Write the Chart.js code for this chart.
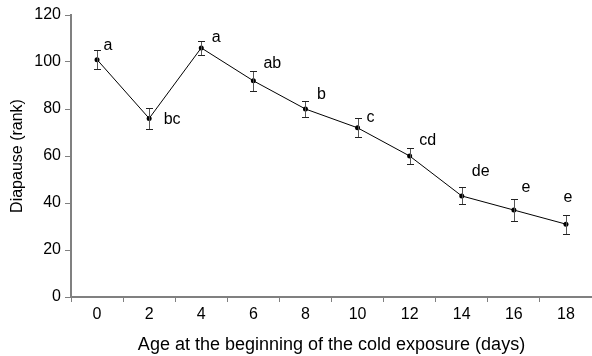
<!DOCTYPE html>
<html>
<head>
<meta charset="utf-8">
<script src="https://cdn.jsdelivr.net/npm/chart.js@4"></script>
<style>
  html, body { margin: 0; padding: 0; background: #fff; overflow: hidden; }
  #wrap { width: 596px; height: 356px; }
</style>
</head>
<body>
<div id="wrap"><canvas id="chart" width="596" height="356"></canvas></div>
<script>
/* ===== DATA ===== */
const ages = ["0", "2", "4", "6", "8", "10", "12", "14", "16", "18"];
const diapause = [101, 76, 106, 92, 80, 72, 60, 43, 37, 31];
const errors = [4, 4.3, 3, 4.3, 3.5, 4, 3.5, 3.6, 4.5, 4];
const groups = ["a", "bc", "a", "ab", "b", "c", "cd", "de", "e", "e"];

/* label offsets in px from each point (style only) */
const groupOffsets = [[11, -14], [23, 1], [15, -10], [19, -17], [16, -14],
                      [13, -10], [18, -15], [19, -24], [12, -22], [2, -27]];

const FONT = "'Liberation Sans', Arial, sans-serif";
const AXIS = "#808080";

/* ===== PLUGINS ===== */
const errorBars = {
  id: "errorBars",
  afterDatasetsDraw(chart) {
    const { ctx, scales: { x, y } } = chart;
    ctx.save();
    diapause.forEach((v, i) => {
      const px = Math.round(x.getPixelForValue(i));
      const top = Math.round(y.getPixelForValue(v + errors[i])) + 0.5;
      const bot = Math.round(y.getPixelForValue(v - errors[i])) + 0.5;
      ctx.strokeStyle = "#555";
      ctx.lineWidth = 1;
      ctx.beginPath();
      ctx.moveTo(px + 0.5, top);
      ctx.lineTo(px + 0.5, bot);
      ctx.stroke();
      ctx.strokeStyle = "#222";
      ctx.beginPath();
      ctx.moveTo(px - 3, top);
      ctx.lineTo(px + 4, top);
      ctx.moveTo(px - 3, bot);
      ctx.lineTo(px + 4, bot);
      ctx.stroke();
    });
    ctx.restore();
  }
};

const groupLabels = {
  id: "groupLabels",
  afterDatasetsDraw(chart) {
    const { ctx, scales: { x, y } } = chart;
    ctx.save();
    ctx.font = "16px " + FONT;
    ctx.fillStyle = "#000";
    ctx.textAlign = "center";
    ctx.textBaseline = "middle";
    groups.forEach((g, i) => {
      const px = x.getPixelForValue(i) + groupOffsets[i][0];
      const py = y.getPixelForValue(diapause[i]) + groupOffsets[i][1];
      ctx.fillText(g, px, py);
    });
    ctx.restore();
  }
};

/* ===== CHART ===== */
new Chart(document.getElementById("chart"), {
  type: "line",
  data: {
    labels: ages,
    datasets: [{
      data: diapause,
      borderColor: "#000",
      borderWidth: 1,
      pointRadius: 2.5,
      pointBackgroundColor: "#000",
      pointBorderWidth: 0,
      tension: 0
    }]
  },
  options: {
    responsive: false,
    animation: false,
    layout: { padding: { top: 15, right: 2, left: 8, bottom: 0 } },
    plugins: { legend: { display: false }, tooltip: { enabled: false } },
    scales: {
      x: {
        offset: true,
        grid: { offset: true, drawOnChartArea: false, drawTicks: true, tickLength: 5, color: AXIS, lineWidth: 1 },
        border: { color: AXIS, width: 2 },
        ticks: { color: "#000", font: { family: FONT, size: 16 }, padding: 3 },
        title: { display: true, text: "Age at the beginning of the cold exposure (days)",
                 color: "#000", font: { family: FONT, size: 18 }, padding: { top: 0, bottom: 0 } },
        afterFit(s) { s.height = 59; }
      },
      y: {
        min: 0, max: 120,
        grid: { drawOnChartArea: false, drawTicks: true, tickLength: 6, color: AXIS, lineWidth: 1 },
        border: { color: AXIS, width: 2 },
        ticks: { stepSize: 20, color: "#000", font: { family: FONT, size: 16 }, padding: 4 },
        title: { display: true, text: "Diapause (rank)", color: "#000",
                 font: { family: FONT, size: 16 }, padding: { top: 0, bottom: 4 } },
        afterFit(s) { s.width = 63; }
      }
    }
  },
  plugins: [errorBars, groupLabels]
});
</script>
</body>
</html>
